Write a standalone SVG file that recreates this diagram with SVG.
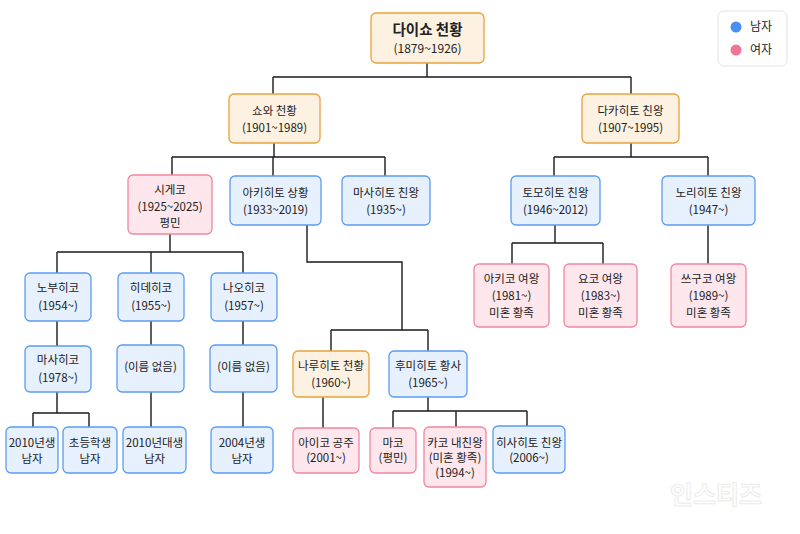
<svg xmlns="http://www.w3.org/2000/svg" width="800" height="534" viewBox="0 0 800 534">
<style>
text{font-family:"Noto Sans CJK KR","Noto Sans",sans-serif;font-size:11.5px;fill:#222;text-anchor:middle}
.m{fill:#e7f0fd;stroke:#5a9cf2;stroke-width:1.3}
.f{fill:#fde7ec;stroke:#f0869f;stroke-width:1.3}
.e{fill:#fdf1e1;stroke:#e8a23c;stroke-width:1.3}
.c{fill:none;stroke:#1a1a1a;stroke-width:1.4}
.t{font-size:14.5px;font-weight:bold}
.d{font-size:12px}
.wm{font-size:25px;fill:#fff;stroke:#ececec;stroke-width:1;font-weight:bold}
</style>
<rect width="800" height="534" fill="#fff"/>
<g id="connectors" class="c">
<path d="M427 63V77M273 77H631M273 77V94M631 77V94"/>
<path d="M274 143V157M172 157H385M172 157V175M273 157V176M385 157V176"/>
<path d="M631 143V157M554 157H708M554 157V176M708 157V176"/>
<path d="M170 234V252M57 252H243M57 252V273M151 252V273M243 252V273"/>
<path d="M57 321V346M151 321V345M243 321V345"/>
<path d="M57 392V413M33 413H89M33 413V427M89 413V427"/>
<path d="M151 392V427M243 392V427"/>
<path d="M307 225V262H402V330M331 330H428M331 330V351M428 330V351"/>
<path d="M323 397V428M428 397V411M393 411H527M393 411V428M456 411V427M527 411V426"/>
<path d="M555 225V243M512 243H603M512 243V264M603 243V264M708 225V264"/>
</g>
<g id="n-taisho"><rect class="e" x="371" y="13" width="113" height="50" rx="5"/><text class="t" x="427.5" y="35">다이쇼 천황</text><text class="d" x="427.5" y="53">(1879~1926)</text></g>
<g id="n-showa"><rect class="e" x="229" y="94" width="91" height="49" rx="5"/><text x="274.5" y="115">쇼와 천황</text><text x="274.5" y="132">(1901~1989)</text></g>
<g id="n-takahito"><rect class="e" x="582" y="94" width="97" height="49" rx="5"/><text x="630.5" y="115">다카히토 친왕</text><text x="630.5" y="132">(1907~1995)</text></g>
<g id="n-shigeko"><rect class="f" x="128" y="175" width="84" height="59" rx="5"/><text x="170" y="194">시게코</text><text x="170" y="211">(1925~2025)</text><text x="170" y="227">평민</text></g>
<g id="n-akihito"><rect class="m" x="230" y="176" width="91" height="49" rx="5"/><text x="275.5" y="197">아키히토 상황</text><text x="275.5" y="214">(1933~2019)</text></g>
<g id="n-masahito"><rect class="m" x="342" y="176" width="88" height="49" rx="5"/><text x="386" y="197">마사히토 친왕</text><text x="386" y="214">(1935~)</text></g>
<g id="n-tomohito"><rect class="m" x="511" y="176" width="89" height="49" rx="5"/><text x="555.5" y="197">토모히토 친왕</text><text x="555.5" y="214">(1946~2012)</text></g>
<g id="n-norihito"><rect class="m" x="662" y="176" width="93" height="49" rx="5"/><text x="708.5" y="197">노리히토 친왕</text><text x="708.5" y="214">(1947~)</text></g>
<g id="n-akiko"><rect class="f" x="474" y="264" width="75" height="63" rx="5"/><text x="511.5" y="283">아키코 여왕</text><text x="511.5" y="300">(1981~)</text><text x="511.5" y="317">미혼 황족</text></g>
<g id="n-yoko"><rect class="f" x="564" y="264" width="73" height="63" rx="5"/><text x="600.5" y="283">요코 여왕</text><text x="600.5" y="300">(1983~)</text><text x="600.5" y="317">미혼 황족</text></g>
<g id="n-tsuguko"><rect class="f" x="671" y="264" width="75" height="63" rx="5"/><text x="708.5" y="283">쓰구코 여왕</text><text x="708.5" y="300">(1989~)</text><text x="708.5" y="317">미혼 황족</text></g>
<g id="n-nobuhiko"><rect class="m" x="25" y="273" width="66" height="48" rx="5"/><text x="58" y="292">노부히코</text><text x="58" y="310">(1954~)</text></g>
<g id="n-hidehiko"><rect class="m" x="118" y="273" width="66" height="48" rx="5"/><text x="151" y="292">히데히코</text><text x="151" y="310">(1955~)</text></g>
<g id="n-naohiko"><rect class="m" x="211" y="273" width="66" height="48" rx="5"/><text x="244" y="292">나오히코</text><text x="244" y="310">(1957~)</text></g>
<g id="n-masahiko"><rect class="m" x="25" y="346" width="66" height="46" rx="5"/><text x="58" y="364">마사히코</text><text x="58" y="382">(1978~)</text></g>
<g id="n-noname1"><rect class="m" x="117" y="345" width="67" height="47" rx="5"/><text x="150.5" y="371">(이름 없음)</text></g>
<g id="n-noname2"><rect class="m" x="210" y="345" width="67" height="47" rx="5"/><text x="243.5" y="371">(이름 없음)</text></g>
<g id="n-naruhito"><rect class="e" x="293" y="351" width="76" height="46" rx="5"/><text x="331" y="370">나루히토 천황</text><text x="331" y="387">(1960~)</text></g>
<g id="n-fumihito"><rect class="m" x="389" y="351" width="78" height="46" rx="5"/><text x="428" y="370">후미히토 황사</text><text x="428" y="387">(1965~)</text></g>
<g id="n-g1"><rect class="m" x="6" y="427" width="52" height="46" rx="5"/><text x="32" y="447">2010년생</text><text x="32" y="463">남자</text></g>
<g id="n-g2"><rect class="m" x="63" y="427" width="54" height="46" rx="5"/><text x="90" y="447">초등학생</text><text x="90" y="463">남자</text></g>
<g id="n-g3"><rect class="m" x="123" y="427" width="63" height="46" rx="5"/><text x="154.5" y="447">2010년대생</text><text x="154.5" y="463">남자</text></g>
<g id="n-g4"><rect class="m" x="211" y="427" width="62" height="46" rx="5"/><text x="242" y="447">2004년생</text><text x="242" y="463">남자</text></g>
<g id="n-aiko"><rect class="f" x="293" y="428" width="66" height="45" rx="5"/><text x="326" y="447">아이코 공주</text><text x="326" y="462">(2001~)</text></g>
<g id="n-mako"><rect class="f" x="370" y="428" width="46" height="45" rx="5"/><text x="393" y="447">마코</text><text x="393" y="462">(평민)</text></g>
<g id="n-kako"><rect class="f" x="424" y="427" width="62" height="60" rx="5"/><text x="455" y="447">카코 내친왕</text><text x="455" y="462">(미혼 황족)</text><text x="455" y="477">(1994~)</text></g>
<g id="n-hisahito"><rect class="m" x="493" y="426" width="72" height="47" rx="5"/><text x="529" y="447">히사히토 친왕</text><text x="529" y="462">(2006~)</text></g>
<g id="legend"><rect x="718" y="11" width="69" height="55" rx="6" fill="#fff" stroke="#e2e2ea" stroke-width="1"/><circle cx="736" cy="27" r="5.5" fill="#4a8ff0"/><circle cx="736" cy="50" r="5.5" fill="#f07598"/><text x="750" y="31" style="text-anchor:start;font-size:12px">남자</text><text x="750" y="54" style="text-anchor:start;font-size:12px">여자</text></g>
<text class="wm" x="716" y="504">인스티즈</text>
</svg>
